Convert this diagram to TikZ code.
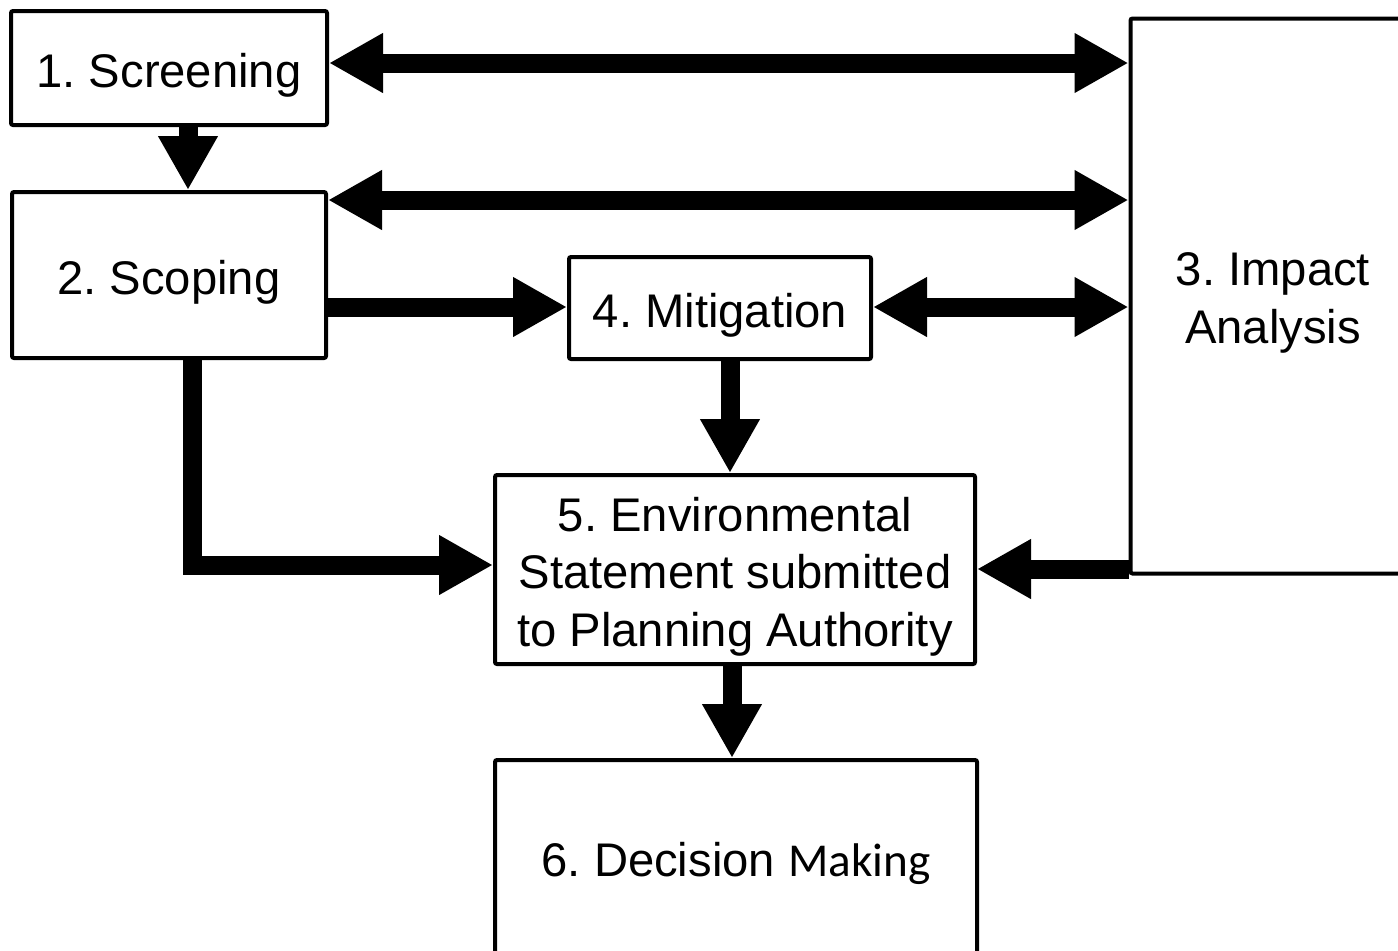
\documentclass[tikz,border=0pt]{standalone}
\usepackage{fontspec}
\setmainfont{Liberation Sans}
\newfontfamily\calibfont{Carlito}
\usetikzlibrary{arrows.meta}
\begin{document}
\begin{tikzpicture}[x=0.5pt,y=-0.5pt,
  box/.style={draw, line width=2pt, rounded corners=1pt, inner sep=0pt},
  txt/.style={inner sep=0pt, align=center, yshift=-3.5pt,
    font=\fontsize{23.6pt}{28.7pt}\selectfont\frenchspacing},
  conn/.style={line width=9.5pt, line join=miter},
  fwd/.style={conn, -{Triangle[length=27pt, width=28pt]}},
  both/.style={conn, {Triangle[length=27pt, width=28pt]}-{Triangle[length=27pt, width=28pt]}}]
\useasboundingbox (0,0) rectangle (1398,950);
\node[box, minimum width=158pt, minimum height=57pt,
  label={[txt]center:{1. Screening}}] (b1) at (169,68) {};
\node[box, minimum width=157pt, minimum height=83pt,
  label={[txt]center:{2. Scoping}}] (b2) at (169,275) {};
\node[box, minimum width=142.5pt, minimum height=277.5pt,
  label={[txt]center:{3. Impact\\Analysis}}] (b3) at (1273,296) {};
\node[box, minimum width=151pt, minimum height=51pt,
  label={[txt]center:{4. Mitigation}}] (b4) at (720,308) {};
\node[box, minimum width=240pt, minimum height=94.5pt,
  label={[txt]center:{5. Environmental\\Statement submitted\\to Planning Authority}}] (b5) at (735,569.5) {};
\node[box, minimum width=241pt, minimum height=100pt,
  label={[txt, yshift=2pt]center:{6. Decision {\calibfont Making}}}] (b6) at (736,860) {};
\coordinate (r1) at (0,63);
\coordinate (r2) at (0,200);
\coordinate (r4) at (0,307);
\coordinate (r7) at (0,565);
\coordinate (r8) at (0,569);
\coordinate (c3) at (188,0);
\coordinate (c6) at (730,0);
\coordinate (c7) at (192,0);
\coordinate (c9) at (732,0);
\draw[both] (b1.east |- r1) -- (b3.west |- r1);
\draw[both] (b2.east |- r2) -- (b3.west |- r2);
\draw[fwd] (b1.south -| c3) -- (b2.north -| c3);
\draw[fwd] (b2.east |- r4) -- (b4.west |- r4);
\draw[both] (b4.east |- r4) -- (b3.west |- r4);
\draw[fwd] (b4.south -| c6) -- (b5.north -| c6);
\draw[fwd] (b2.south -| c7) |- (b5.west |- r7);
\draw[fwd] (b3.west |- r8) -- (b5.east |- r8);
\draw[fwd] (b5.south -| c9) -- (b6.north -| c9);
\end{tikzpicture}
\end{document}
